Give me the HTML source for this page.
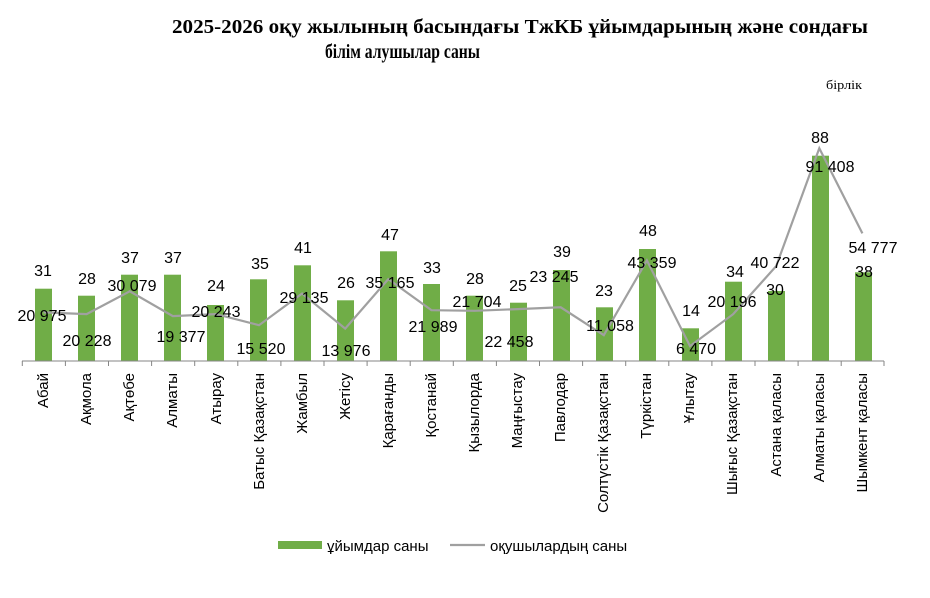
<!DOCTYPE html>
<html><head><meta charset="utf-8"><style>
html,body{margin:0;padding:0;background:#fff;}
svg{display:block;}
.t{font-family:"Liberation Serif","DejaVu Serif",serif;font-weight:bold;font-size:20px;fill:#000;}
.l{font-family:"Liberation Sans","DejaVu Sans",sans-serif;font-size:16px;fill:#000;text-anchor:middle;}
.c{font-family:"Liberation Sans","DejaVu Sans",sans-serif;font-size:15px;fill:#000;text-anchor:end;}
</style></head><body>
<svg width="930" height="598" viewBox="0 0 930 598" xmlns="http://www.w3.org/2000/svg">
<text class="t" x="172" y="33" textLength="696" lengthAdjust="spacingAndGlyphs">2025-2026 оқу жылының басындағы ТжКБ ұйымдарының және сондағы</text>
<text class="t" x="325" y="58" textLength="155" lengthAdjust="spacingAndGlyphs">білім алушылар саны</text>
<text x="826" y="89" font-family="Liberation Serif,serif" font-size="13" textLength="36" lengthAdjust="spacingAndGlyphs">бірлік</text>
<g fill="#70ad47">
<rect x="35" y="288.7" width="17" height="72.3"/>
<rect x="78" y="295.7" width="17" height="65.3"/>
<rect x="121" y="274.7" width="17" height="86.3"/>
<rect x="164" y="274.7" width="17" height="86.3"/>
<rect x="207" y="305" width="17" height="56"/>
<rect x="250" y="279.3" width="17" height="81.7"/>
<rect x="294" y="265.3" width="17" height="95.7"/>
<rect x="337" y="300.3" width="17" height="60.7"/>
<rect x="380" y="251.3" width="17" height="109.7"/>
<rect x="423" y="284" width="17" height="77"/>
<rect x="466" y="295.7" width="17" height="65.3"/>
<rect x="510" y="302.7" width="17" height="58.3"/>
<rect x="553" y="270" width="17" height="91"/>
<rect x="596" y="307.3" width="17" height="53.7"/>
<rect x="639" y="249" width="17" height="112"/>
<rect x="682" y="328.3" width="17" height="32.7"/>
<rect x="725" y="281.7" width="17" height="79.3"/>
<rect x="768" y="291" width="17" height="70"/>
<rect x="812" y="155.7" width="17" height="205.3"/>
<rect x="855" y="272.3" width="17" height="88.7"/>
</g>
<line x1="22" y1="361" x2="884" y2="361" stroke="#868686" stroke-width="1"/>
<g stroke="#868686" stroke-width="1">
<line x1="22.3" y1="361" x2="22.3" y2="366"/><line x1="65.4" y1="361" x2="65.4" y2="366"/><line x1="108.5" y1="361" x2="108.5" y2="366"/><line x1="151.6" y1="361" x2="151.6" y2="366"/><line x1="194.7" y1="361" x2="194.7" y2="366"/><line x1="237.8" y1="361" x2="237.8" y2="366"/><line x1="280.9" y1="361" x2="280.9" y2="366"/><line x1="324" y1="361" x2="324" y2="366"/><line x1="367.1" y1="361" x2="367.1" y2="366"/><line x1="410.2" y1="361" x2="410.2" y2="366"/><line x1="453.3" y1="361" x2="453.3" y2="366"/><line x1="496.4" y1="361" x2="496.4" y2="366"/><line x1="539.5" y1="361" x2="539.5" y2="366"/><line x1="582.6" y1="361" x2="582.6" y2="366"/><line x1="625.7" y1="361" x2="625.7" y2="366"/><line x1="668.8" y1="361" x2="668.8" y2="366"/><line x1="711.9" y1="361" x2="711.9" y2="366"/><line x1="755" y1="361" x2="755" y2="366"/><line x1="798.1" y1="361" x2="798.1" y2="366"/><line x1="841.2" y1="361" x2="841.2" y2="366"/><line x1="884" y1="361" x2="884" y2="366"/>
</g>
<polyline fill="none" stroke="#a0a0a0" stroke-width="2.2" points="43.5,312.4 86.6,314.1 129.7,291.3 172.8,316.1 215.9,314.1 259,325.2 302.1,293.5 345.2,328.6 388.3,279.1 431.4,310.2 474.5,310.8 517.6,309.1 560.7,307.3 603.8,335.2 646.9,260.4 690,346.1 733.1,314.2 776.2,266.1 819.3,148.3 862.4,233.4"/>
<g class="l">
<text x="43" y="276">31</text><text x="87" y="284">28</text><text x="130" y="263">37</text><text x="173" y="263">37</text><text x="216" y="291">24</text><text x="260" y="269">35</text><text x="303" y="253">41</text><text x="346" y="288">26</text><text x="390" y="240">47</text><text x="432" y="273">33</text><text x="475" y="284">28</text><text x="518" y="291">25</text><text x="562" y="257">39</text><text x="604" y="296">23</text><text x="648" y="236">48</text><text x="691" y="316">14</text><text x="735" y="277">34</text><text x="775" y="295">30</text><text x="820" y="143">88</text><text x="864" y="277">38</text>
<text x="42" y="321">20 975</text><text x="87" y="346">20 228</text><text x="132" y="291">30 079</text><text x="181" y="342">19 377</text><text x="216" y="317">20 243</text><text x="261" y="354">15 520</text><text x="304" y="303">29 135</text><text x="346" y="356">13 976</text><text x="390" y="288">35 165</text><text x="433" y="332">21 989</text><text x="477" y="307">21 704</text><text x="509" y="347">22 458</text><text x="554" y="282">23 245</text><text x="610" y="331">11 058</text><text x="652" y="268">43 359</text><text x="696" y="354">6 470</text><text x="732" y="307">20 196</text><text x="775" y="268">40 722</text><text x="830" y="172">91 408</text><text x="873" y="253">54 777</text>
</g>
<g class="c">
<text transform="translate(48,373) rotate(-90)">Абай</text>
<text transform="translate(91,373) rotate(-90)">Ақмола</text>
<text transform="translate(134,373) rotate(-90)">Ақтөбе</text>
<text transform="translate(177,373) rotate(-90)">Алматы</text>
<text transform="translate(221,373) rotate(-90)">Атырау</text>
<text transform="translate(264,373) rotate(-90)">Батыс Қазақстан</text>
<text transform="translate(307,373) rotate(-90)">Жамбыл</text>
<text transform="translate(350,373) rotate(-90)">Жетісу</text>
<text transform="translate(393,373) rotate(-90)">Қарағанды</text>
<text transform="translate(436,373) rotate(-90)">Қостанай</text>
<text transform="translate(479,373) rotate(-90)">Қызылорда</text>
<text transform="translate(522,373) rotate(-90)">Маңғыстау</text>
<text transform="translate(565,373) rotate(-90)">Павлодар</text>
<text transform="translate(608,373) rotate(-90)">Солтүстік Қазақстан</text>
<text transform="translate(651,373) rotate(-90)">Түркістан</text>
<text transform="translate(694,373) rotate(-90)">Ұлытау</text>
<text transform="translate(737,373) rotate(-90)">Шығыс  Қазақстан</text>
<text transform="translate(781,373) rotate(-90)">Астана қаласы</text>
<text transform="translate(824,373) rotate(-90)">Алматы қаласы</text>
<text transform="translate(867,373) rotate(-90)">Шымкент қаласы</text>
</g>
<rect x="278" y="541" width="44" height="8" fill="#70ad47"/>
<text x="327" y="551" font-family="Liberation Sans,sans-serif" font-size="15">ұйымдар  саны</text>
<line x1="450" y1="545" x2="485" y2="545" stroke="#a0a0a0" stroke-width="2.2"/>
<text x="490" y="551" font-family="Liberation Sans,sans-serif" font-size="15">оқушылардың  саны</text>
</svg>
</body></html>
